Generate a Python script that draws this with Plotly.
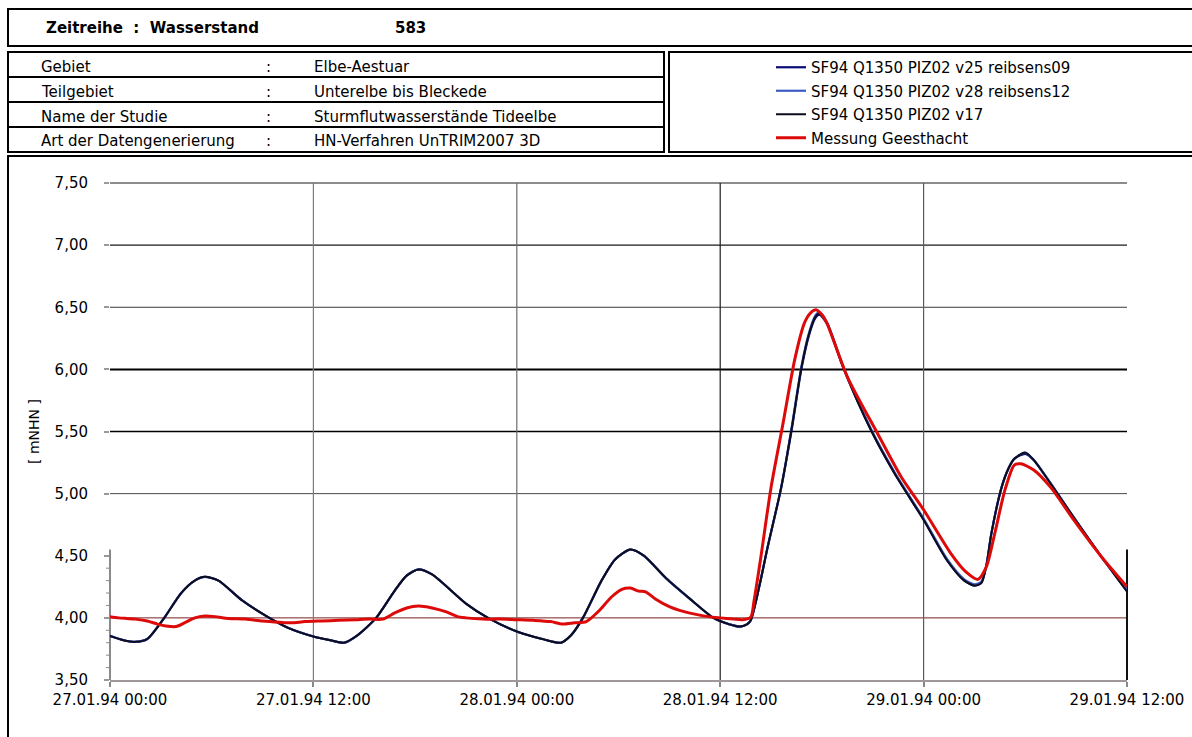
import pandas as pd
import plotly.graph_objects as go

# ---------------- data ----------------
START = pd.Timestamp("1994-01-27 00:00")

sim_hours = [0, 0.8, 1.5, 2.2, 3.2, 4.2, 5.0, 5.6, 6.4, 7.8, 9.4, 10.5, 12.0, 13.0, 13.8,
             14.6, 15.7, 16.8, 17.5, 18.2, 19.0, 21.0, 22.3, 24.0, 25.5, 26.6, 27.2, 27.9,
             29.0, 29.8, 30.7, 31.5, 32.8, 34.2, 35.6, 36.5, 37.2, 37.6, 37.8, 38.3, 38.8,
             39.6, 40.2, 40.8, 41.25, 41.6, 41.85, 42.3, 43.3, 44.9, 46.3, 48.0, 49.4, 50.4,
             51.0, 51.4, 51.7, 52.0, 52.6, 53.0, 53.35, 54.0, 54.5, 55.3, 56.9, 58.5, 60.0]

sim_v17 = [3.855, 3.82, 3.807, 3.83, 4.00, 4.20, 4.30, 4.33, 4.30, 4.14, 4.00, 3.92, 3.85, 3.82, 3.80,
           3.86, 4.00, 4.22, 4.34, 4.39, 4.35, 4.115, 4.00, 3.89, 3.83, 3.80, 3.86, 4.00,
           4.30, 4.47, 4.55, 4.50, 4.32, 4.155, 4.00, 3.95, 3.93, 3.95, 3.98, 4.25, 4.57,
           5.05, 5.51, 6.02, 6.29, 6.42, 6.45, 6.37, 6.00, 5.51, 5.16, 4.79, 4.46, 4.30,
           4.26, 4.28, 4.42, 4.68, 5.05, 5.20, 5.28, 5.33, 5.27, 5.12, 4.80, 4.49, 4.21]

sim_v25 = [3.855, 3.82, 3.807, 3.83, 4.00, 4.20, 4.30, 4.33, 4.30, 4.14, 4.00, 3.92, 3.85, 3.82, 3.80,
           3.86, 4.00, 4.22, 4.34, 4.39, 4.35, 4.115, 4.00, 3.89, 3.83, 3.80, 3.86, 4.00,
           4.30, 4.47, 4.55, 4.50, 4.32, 4.155, 4.00, 3.95, 3.93, 3.95, 3.98, 4.25, 4.57,
           5.05, 5.50, 6.01, 6.28, 6.41, 6.44, 6.37, 6.00, 5.51, 5.16, 4.79, 4.46, 4.30,
           4.26, 4.28, 4.42, 4.68, 5.05, 5.20, 5.28, 5.32, 5.27, 5.12, 4.80, 4.49, 4.22]

sim_v28 = [3.855, 3.82, 3.807, 3.83, 4.00, 4.20, 4.30, 4.33, 4.30, 4.14, 4.00, 3.92, 3.85, 3.82, 3.80,
           3.86, 4.00, 4.22, 4.34, 4.39, 4.35, 4.115, 4.00, 3.89, 3.83, 3.80, 3.86, 4.00,
           4.30, 4.47, 4.55, 4.50, 4.32, 4.155, 4.00, 3.95, 3.93, 3.95, 3.98, 4.25, 4.57,
           5.05, 5.52, 6.03, 6.30, 6.43, 6.46, 6.38, 6.01, 5.52, 5.17, 4.80, 4.47, 4.31,
           4.27, 4.29, 4.42, 4.68, 5.05, 5.20, 5.28, 5.33, 5.27, 5.12, 4.80, 4.49, 4.23]

mess_hours = [0, 0.5, 1.0, 1.5, 2.2, 2.8, 3.3, 3.9, 4.4, 5.0, 5.6, 6.2, 7.0, 8.0, 9.0, 10.0,
              10.7, 11.5, 12.5, 13.5, 14.5, 15.3, 16.1, 16.8, 17.5, 18.2, 19.0, 19.8, 20.5,
              21.0, 22.0, 23.0, 24.0, 25.0, 26.0, 26.7, 27.4, 28.1, 28.8, 29.6, 30.2, 30.7,
              31.2, 31.6, 32.2, 33.0, 33.6, 34.5, 35.3, 36.0, 36.8, 37.3, 37.8, 38.0, 38.4,
              39.0, 39.7, 40.4, 40.96, 41.3, 41.65, 42.0, 42.3, 43.5, 45.3, 46.7, 48.0, 49.6,
              50.5, 51.2, 51.7, 52.2, 52.8, 53.35, 53.75, 54.5, 55.5, 56.9, 58.5, 60.0]

mess_values = [4.01, 4.00, 3.995, 3.99, 3.975, 3.95, 3.935, 3.93, 3.96, 4.00, 4.015, 4.01, 3.995,
               3.99, 3.975, 3.965, 3.96, 3.97, 3.975, 3.98, 3.985, 3.99, 3.99, 4.04, 4.08, 4.095,
               4.08, 4.05, 4.01, 4.00, 3.99, 3.99, 3.985, 3.98, 3.97, 3.95, 3.96, 3.97, 4.05,
               4.17, 4.23, 4.24, 4.215, 4.21, 4.15, 4.09, 4.06, 4.03, 4.01, 4.00, 3.99, 3.985,
               4.005, 4.14, 4.49, 5.05, 5.56, 6.08, 6.37, 6.45, 6.48, 6.44, 6.37, 5.94, 5.48,
               5.13, 4.87, 4.52, 4.37, 4.31, 4.41, 4.68, 5.03, 5.23, 5.24, 5.19, 5.05, 4.78,
               4.49, 4.25]

series_names = ["SF94 Q1350 PIZ02 v25 reibsens09",
                "SF94 Q1350 PIZ02 v28 reibsens12",
                "SF94 Q1350 PIZ02 v17",
                "Messung Geesthacht"]

y_tick_values = [3.5, 4.0, 4.5, 5.0, 5.5, 6.0, 6.5, 7.0, 7.5]
x_tick_hours = [0, 12, 24, 36, 48, 60]

table_labels = ["Gebiet", "Teilgebiet", "Name der Studie", "Art der Datengenerierung"]
table_values = ["Elbe-Aestuar", "Unterelbe bis Bleckede",
                "Sturmflutwasserstände Tideelbe", "HN-Verfahren UnTRIM2007 3D"]
title_left = "Zeitreihe  :  Wasserstand"
title_number = "583"

# ---------------- layout helpers ----------------
W, H = 1192, 737
PL, PR, PT, PB = 110, 1127, 183, 680
YMIN, YMAX = 3.5, 7.5
XMAX_H = 60.0
FONT = "DejaVu Sans"


def px(x):
    return (x - PL) / (PR - PL)


def py(y):
    return (PB - y) / (PB - PT)


def yv(v):
    return (v - YMIN) / (YMAX - YMIN)


def xh(h):
    return h / XMAX_H


def to_time(hours):
    return [START + pd.Timedelta(hours=h) for h in hours]


fig = go.Figure()

colors = ["#0b0b78", "#3c5cc4", "#0c0c1c", "#dd0a0a"]
widths = [2.2, 2.2, 2.0, 3.0]
data_sets = [(sim_hours, sim_v25), (sim_hours, sim_v28), (sim_hours, sim_v17),
             (mess_hours, mess_values)]
for i, (hrs, vals) in enumerate(data_sets):
    fig.add_trace(go.Scatter(
        x=to_time(hrs), y=vals, mode="lines", name=series_names[i],
        line=dict(color=colors[i], width=widths[i], shape="spline", smoothing=0.7),
        legendgroup=f"g{i}",
    ))

shapes = []
# frame boxes
box_line = dict(color="black", width=2)
shapes.append(dict(type="rect", xref="paper", yref="paper", x0=px(8), x1=px(1200),
                   y0=py(9), y1=py(46), line=box_line))
shapes.append(dict(type="rect", xref="paper", yref="paper", x0=px(8), x1=px(664),
                   y0=py(52), y1=py(152), line=box_line))
for ry in [77, 102, 127]:
    shapes.append(dict(type="line", xref="paper", yref="paper", x0=px(8), x1=px(664),
                       y0=py(ry), y1=py(ry), line=box_line))
shapes.append(dict(type="rect", xref="paper", yref="paper", x0=px(669), x1=px(1200),
                   y0=py(52), y1=py(152), line=box_line))
shapes.append(dict(type="rect", xref="paper", yref="paper", x0=px(8), x1=px(1200),
                   y0=py(156), y1=py(760), line=box_line))

# horizontal grid lines (4.50 missing as in the original)
hgrid = [(7.5, "#8c8c8c", 2.2), (7.0, "#1a1a1a", 1.2), (6.5, "#3a3a3a", 1.0),
         (6.0, "#000000", 2.0), (5.5, "#000000", 1.5), (5.0, "#4a4a4a", 1.0),
         (4.0, "#7a2222", 1.0)]
for v, c, w in hgrid:
    shapes.append(dict(type="line", xref="paper", yref="paper", x0=0, x1=1,
                       y0=yv(v), y1=yv(v), line=dict(color=c, width=w), layer="below"))

# vertical grid lines
vgrid = [(12, "#7c7c7c"), (24, "#6c6c6c"), (36, "#1c1c1c"), (48, "#5c5c5c")]
for h, c in vgrid:
    shapes.append(dict(type="line", xref="paper", yref="paper", x0=xh(h), x1=xh(h),
                       y0=0, y1=1, line=dict(color=c, width=1.2), layer="below"))
# right border (lower part only)
shapes.append(dict(type="line", xref="paper", yref="paper", x0=1, x1=1,
                   y0=0, y1=yv(4.55), line=dict(color="#111111", width=2), layer="below"))
# left axis line (lower part only) + minor ticks
shapes.append(dict(type="line", xref="paper", yref="paper", x0=0, x1=0,
                   y0=0, y1=yv(4.55), line=dict(color="#8a8a8a", width=2), layer="below"))
for m in [3.6, 3.7, 3.8, 3.9, 4.1, 4.2, 4.3, 4.4]:
    shapes.append(dict(type="line", xref="paper", yref="paper", x0=px(PL - 4), x1=0,
                       y0=yv(m), y1=yv(m), line=dict(color="#8a8a8a", width=1), layer="below"))

annotations = []
annotations.append(dict(text=title_left, x=px(44), y=py(28), xref="paper", yref="paper",
                        xanchor="left", yanchor="middle", showarrow=False,
                        font=dict(family=FONT, size=15, color="black", weight="bold")))
annotations.append(dict(text=title_number, x=px(410), y=py(28), xref="paper", yref="paper",
                        xanchor="center", yanchor="middle", showarrow=False,
                        font=dict(family=FONT, size=15, color="black", weight="bold")))
row_y = [67, 92, 117, 141]
for lab, val, ry in zip(table_labels, table_values, row_y):
    for txt, x in [(lab, 39), (":", 264), (val, 312)]:
        annotations.append(dict(text=txt, x=px(x), y=py(ry), xref="paper", yref="paper",
                                xanchor="left", yanchor="middle", showarrow=False,
                                font=dict(family=FONT, size=15, color="black")))

fig.update_layout(
    width=W, height=H,
    margin=dict(l=PL, r=W - PR, t=PT, b=H - PB, pad=0, autoexpand=False),
    paper_bgcolor="white", plot_bgcolor="white",
    separators=",.",
    font=dict(family=FONT, size=15, color="black"),
    showlegend=True,
    legend=dict(x=px(771), y=py(51), xanchor="left", yanchor="top",
                bgcolor="rgba(0,0,0,0)", borderwidth=0, tracegroupgap=1,
                font=dict(family=FONT, size=15, color="black")),
    shapes=shapes,
    annotations=annotations,
    xaxis=dict(
        type="date",
        range=[START, START + pd.Timedelta(hours=XMAX_H)],
        tickvals=to_time(x_tick_hours),
        tickformat="%d.%m.%y %H:%M",
        showgrid=False, zeroline=False,
        showline=True, linecolor="#a09898", linewidth=2,
        ticks="outside", ticklen=5, tickcolor="#888888", tickwidth=1.5,
        tickfont=dict(family=FONT, size=15, color="black"),
        ticklabelstandoff=0,
    ),
    yaxis=dict(
        range=[YMIN, YMAX],
        tickvals=y_tick_values,
        tickformat=".2f",
        showgrid=False, zeroline=False, showline=False,
        ticks="outside", ticklen=5, tickcolor="#999999", tickwidth=1.5,
        tickfont=dict(family=FONT, size=15, color="black"),
        ticklabelstandoff=13,
        title=dict(text="[ mNHN ]", font=dict(family=FONT, size=14, color="black"),
                   standoff=11),
    ),
)

fig.write_html("out.html", config={"displayModeBar": False},
               post_script="document.body.style.margin='0';document.body.style.overflow='hidden';")
